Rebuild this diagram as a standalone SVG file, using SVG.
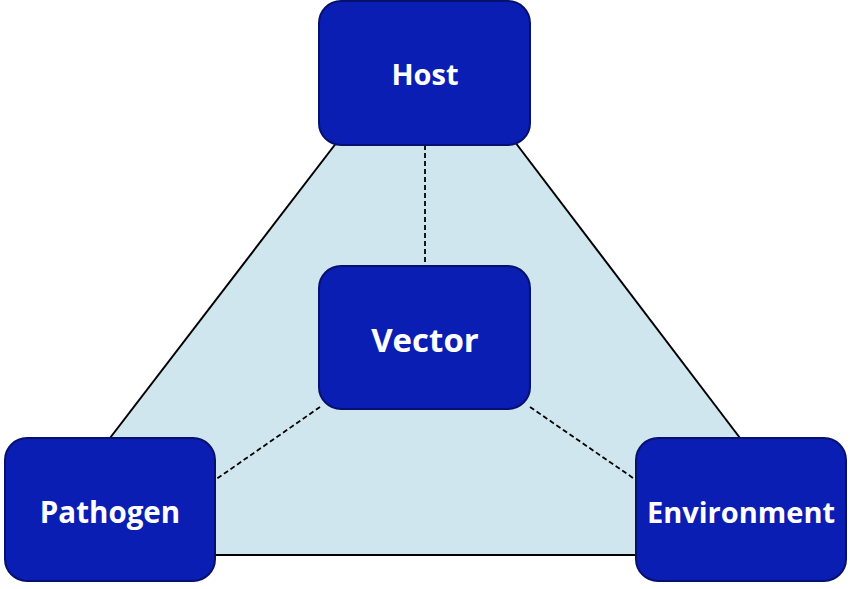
<svg xmlns="http://www.w3.org/2000/svg" width="850" height="589" viewBox="0 0 850 589">
<style>
.box{fill:#0a1eb4;stroke:#06116e;stroke-width:2}
.t{fill:#fff;font-family:"Open Sans","Liberation Sans",sans-serif;font-weight:bold;text-anchor:middle;dominant-baseline:central}
.dash{stroke:#000;stroke-width:1.8;stroke-dasharray:5,3;fill:none}
</style>
<rect width="850" height="589" fill="#fff"/>
<polygon points="337,142 515,142 830,555 20,555" fill="#cfe6ef"/>
<g id="connectors">
<line x1="337" y1="142" x2="110" y2="438" stroke="#000" stroke-width="2"/>
<line x1="515" y1="142" x2="740" y2="438" stroke="#000" stroke-width="2"/>
<line x1="215" y1="555" x2="636" y2="555" stroke="#000" stroke-width="2"/>
<line class="dash" x1="425" y1="145" x2="425" y2="266"/>
<line class="dash" x1="320" y1="407" x2="215" y2="480"/>
<line class="dash" x1="530" y1="407" x2="636" y2="480"/>
</g>
<g id="host"><rect class="box" x="319" y="1" width="211" height="144" rx="22"/><text class="t" x="425" y="73" font-size="29">Host</text></g>
<g id="vector"><rect class="box" x="319" y="266" width="211" height="143" rx="22"/><text class="t" x="425" y="339" font-size="33">Vector</text></g>
<g id="pathogen"><rect class="box" x="5" y="438" width="210" height="143" rx="22"/><text class="t" x="110" y="511" font-size="29.5">Pathogen</text></g>
<g id="environment"><rect class="box" x="636" y="438" width="210" height="143" rx="22"/><text class="t" x="741" y="511" font-size="29">Environment</text></g>
</svg>
